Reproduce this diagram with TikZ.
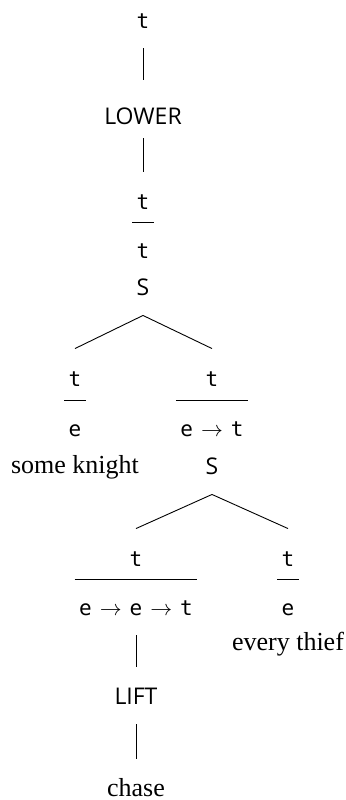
\documentclass[tikz,border=0pt]{standalone}
\usepackage{fontspec}
\setmainfont{Liberation Serif}
\setsansfont{Open Sans}
\setmonofont{DejaVu Sans Mono}
\usepackage{tikz}
\usetikzlibrary{calc}

\newcommand{\tyto}{\makebox[0.602em]{$\rightarrow$}}

\tikzset{
  lbl/.style={inner xsep=2pt, inner ysep=10pt, text height=8.5pt, text depth=0pt},
  ty/.style={lbl, font=\fontsize{10.5}{12}\selectfont\ttfamily},
  op/.style={lbl, font=\fontsize{11.5}{14}\selectfont\sffamily},
  word/.style={lbl, font=\fontsize{13}{15}\selectfont},
}

\begin{document}
\begin{tikzpicture}[line width=0.45pt, node distance=25pt]
\useasboundingbox (-71.5pt,9.75pt) rectangle (101pt,-390.25pt);
\node[ty, name=top]{t};
\node[op, name=lower, node distance=44.75pt, below of=top, text height=15pt, inner ysep=7pt]{LOWER};
\node[ty, name=f1n, node distance=45.75pt, below of=lower]{t};
\node[ty, name=f1d, node distance=24.5pt, below of=f1n]{t};
\node[op, name=s1, node distance=18.5pt, below of=f1d]{S};
\node[ty, name=kn, node distance=45.5pt, below of=s1, xshift=-34pt]{t};
\node[ty, name=kd, below of=kn]{e};
\node[word, name=kw, node distance=18.5pt, below of=kd]{some knight};
\node[ty, name=vn, node distance=45.5pt, below of=s1, xshift=34.5pt]{t};
\node[ty, name=vd, below of=vn]{e \tyto{} t};
\node[op, name=s2, node distance=19pt, below of=vd]{S};
\node[ty, name=ln, node distance=46pt, below of=s2, xshift=-38pt]{t};
\node[ty, name=ld, node distance=24.5pt, below of=ln]{e \tyto{} e \tyto{} t};
\node[op, name=lift, node distance=44.5pt, below of=ld]{LIFT};
\node[word, name=chase, node distance=46pt, below of=lift]{chase};
\node[ty, name=tn, node distance=46pt, below of=s2, xshift=38pt]{t};
\node[ty, name=td, node distance=24.5pt, below of=tn]{e};
\node[word, name=tw, node distance=17.5pt, below of=td]{every thief};

% fraction bars
\draw ([yshift=-1pt]f1d.north west) -- ([yshift=-1pt]f1d.north east);
\draw ([yshift=-1pt]kd.north west) -- ([yshift=-1pt]kd.north east);
\draw ([yshift=-1pt]vd.north west) -- ([yshift=-1pt]vd.north east);
\draw ([yshift=-1pt]ld.north west) -- ([yshift=-1pt]ld.north east);
\draw ([yshift=-1pt]td.north west) -- ([yshift=-1pt]td.north east);

% tree
\draw (top.south) -- (lower.north);
\draw (lower.south) -- (f1n.north);
\draw (s1.south) -- (kn.north);
\draw (s1.south) -- (vn.north);
\draw (s2.south) -- (ln.north);
\draw (s2.south) -- (tn.north);
\draw (ld.south) -- (lift.north);
\draw (lift.south) -- (chase.north);

\end{tikzpicture}
\end{document}
